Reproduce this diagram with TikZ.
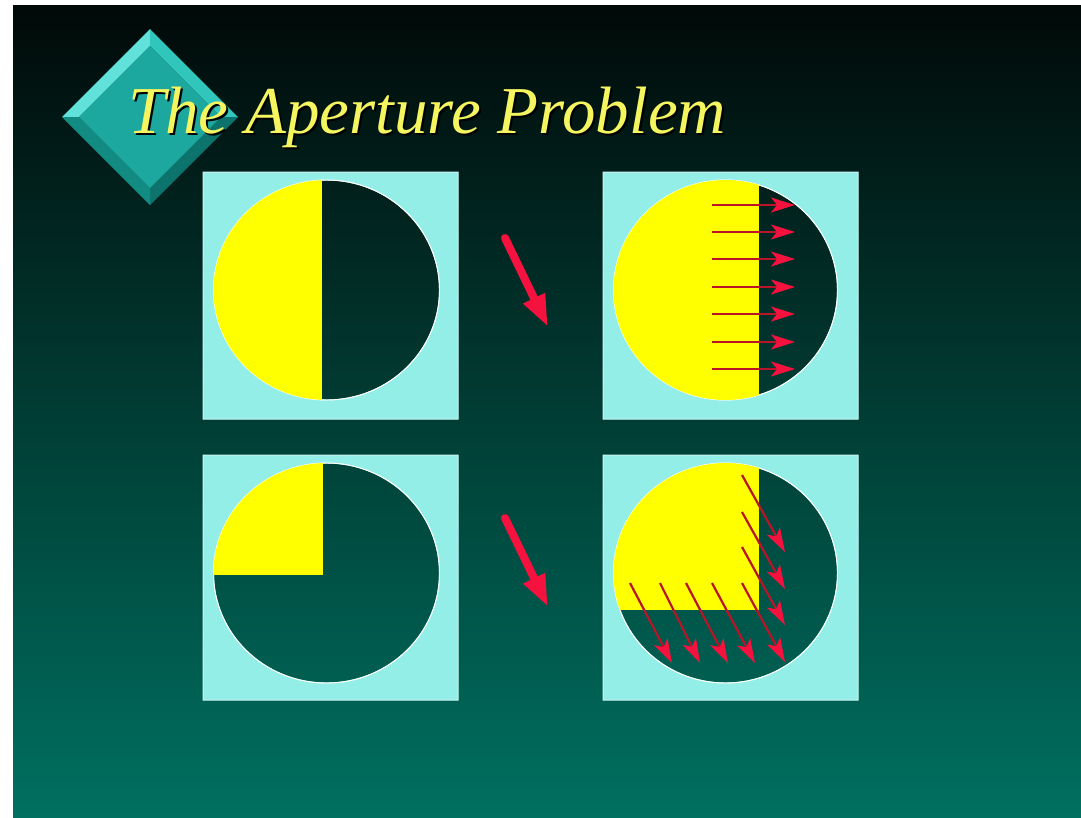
\documentclass[tikz,border=0pt]{standalone}
\usepackage{fontspec}
\setmainfont{Liberation Serif}
\usetikzlibrary{arrows.meta}

\definecolor{bgtop}{RGB}{1,9,8}
\definecolor{bgmid}{RGB}{2,50,43}
\definecolor{bgbot}{RGB}{0,112,96}
\definecolor{panelcyan}{RGB}{146,238,230}
\definecolor{discyellow}{RGB}{255,255,0}
\definecolor{arrowred}{RGB}{245,18,62}
\definecolor{shaftred}{RGB}{185,20,40}
\definecolor{titleyellow}{RGB}{245,245,95}
\definecolor{facetl}{RGB}{96,226,218}
\definecolor{facetr}{RGB}{48,198,188}
\definecolor{facebl}{RGB}{18,140,130}
\definecolor{facebr}{RGB}{12,116,108}
\definecolor{facemid}{RGB}{28,168,158}

\begin{document}
\begin{tikzpicture}[x=1pt,y=-1pt,
  panel/.style={fill=panelcyan,draw=white!55!panelcyan,line width=1pt,even odd rule},
  rim/.style={draw=white,line width=0.9pt},
  motion/.style={draw=shaftred,line width=2.2pt,-{Stealth[length=24pt,width=15pt,inset=6pt,color=arrowred]}},
  bigarrow/.style={draw=arrowred,line width=8pt,line cap=round,-{Triangle[length=32pt,width=22pt]}},
  titletext/.style={font=\itshape\fontsize{67}{70}\selectfont,anchor=base west,inner sep=0pt}]
\useasboundingbox (0,0) rectangle (1081,817);
\fill[white] (0,0) rectangle (1081,817);
\shade[top color=bgtop,middle color=bgmid,bottom color=bgbot] (13,5) rectangle (1081,817);

% bevelled diamond
\fill[facetl] (62,117) -- (150,29) -- (150,46) -- (79,117) -- cycle;
\fill[facetr] (150,29) -- (238,117) -- (221,117) -- (150,46) -- cycle;
\fill[facebr] (238,117) -- (150,205) -- (150,188) -- (221,117) -- cycle;
\fill[facebl] (150,205) -- (62,117) -- (79,117) -- (150,188) -- cycle;
\fill[facemid] (79,117) -- (150,46) -- (221,117) -- (150,188) -- cycle;

% title
\node[titletext,text=black] (title shadow) at (130,135) {The Aperture Problem};
\node[titletext,text=titleyellow] (title) at (128,133) {The Aperture Problem};

% upper left: edge at rest
\fill[panel] (203,172) rectangle (458,419) (326.5,290) ellipse [x radius=113pt,y radius=110pt];
\draw[rim] (326.5,290) ellipse [x radius=113pt,y radius=110pt];
\begin{scope}
\clip (326.5,290) ellipse [x radius=113pt,y radius=110pt];
\fill[discyellow] (200,170) rectangle (322,410);
\end{scope}

% upper right: edge moved
\fill[panel] (603,172) rectangle (858,419) (725.5,290) ellipse [x radius=112pt,y radius=110pt];
\draw[rim] (725.5,290) ellipse [x radius=112pt,y radius=110pt];
\begin{scope}
\clip (725.5,290) ellipse [x radius=112pt,y radius=110pt];
\fill[discyellow] (600,170) rectangle (759,410);
\end{scope}
\draw[motion] (712,205) -- (795,205);
\draw[motion] (712,232) -- (795,232);
\draw[motion] (712,259) -- (795,259);
\draw[motion] (712,287) -- (795,287);
\draw[motion] (712,314) -- (795,314);
\draw[motion] (712,342) -- (795,342);
\draw[motion] (712,369) -- (795,369);

% lower left: corner at rest
\fill[panel] (203,455) rectangle (458,700) (326.5,573) ellipse [x radius=113pt,y radius=110pt];
\draw[rim] (326.5,573) ellipse [x radius=113pt,y radius=110pt];
\begin{scope}
\clip (326.5,573) ellipse [x radius=113pt,y radius=110pt];
\fill[discyellow] (200,450) rectangle (323,575);
\end{scope}

% lower right: corner moved
\fill[panel] (603,455) rectangle (858,700) (725.5,573) ellipse [x radius=112pt,y radius=110pt];
\draw[rim] (725.5,573) ellipse [x radius=112pt,y radius=110pt];
\begin{scope}
\clip (725.5,573) ellipse [x radius=112pt,y radius=110pt];
\fill[discyellow] (600,450) rectangle (759,610);
\end{scope}
\draw[motion] (742,475) -- (785,552);
\draw[motion] (742,512) -- (785,589);
\draw[motion] (742,547) -- (785,625);
\draw[motion] (742,583) -- (785,662);
\draw[motion] (630,583) -- (672,663);
\draw[motion] (660,583) -- (700,663);
\draw[motion] (686,583) -- (728,663);
\draw[motion] (712,583) -- (755,663);

% motion between frames
\coordinate (upper from) at (505,238);
\coordinate (upper to) at (548,327);
\coordinate (lower from) at (505,518);
\coordinate (lower to) at (548,607);
\draw[bigarrow] (upper from) -- (upper to);
\draw[bigarrow] (lower from) -- (lower to);
\end{tikzpicture}
\end{document}
